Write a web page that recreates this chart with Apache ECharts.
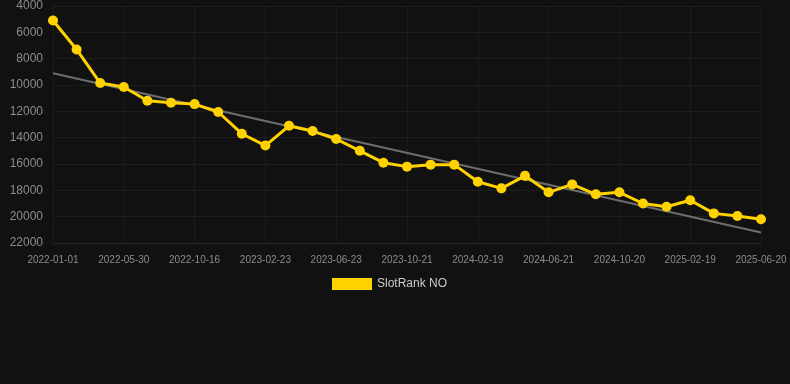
<!DOCTYPE html>
<html>
<head>
<meta charset="utf-8">
<script src="https://cdn.jsdelivr.net/npm/echarts@6/dist/echarts.min.js"></script>
<style>
  html, body { margin: 0; padding: 0; background: #111111; }
  #chart { width: 790px; height: 384px; }
</style>
</head>
<body>
<div id="chart"></div>
<script>
// dates (every 3rd one is labelled on the axis)
const dates = [
  '2022-01-01', '2022-02-19', '2022-04-10',
  '2022-05-30', '2022-07-16', '2022-08-31',
  '2022-10-16', '2022-11-29', '2023-01-11',
  '2023-02-23', '2023-04-04', '2023-05-14',
  '2023-06-23', '2023-08-02', '2023-09-11',
  '2023-10-21', '2023-11-30', '2024-01-09',
  '2024-02-19', '2024-03-30', '2024-05-11',
  '2024-06-21', '2024-07-31', '2024-09-09',
  '2024-10-20', '2024-11-29', '2025-01-09',
  '2025-02-19', '2025-03-31', '2025-05-10',
  '2025-06-20'
]
// rank values
const rankNO = [
  5100, 7300, 9850, 10150, 11200, 11350, 11450, 12050, 13700, 14600,
  13100, 13500, 14100, 15000, 15900, 16200, 16050, 16050, 17350, 17850,
  16900, 18150, 17550, 18300, 18150, 19000, 19250, 18750, 19750, 19950,
  20200
]
// trend line end points
const trendStart = 9100
const trendEnd = 21200

const chart = echarts.init(document.getElementById('chart'))
const font = 'Arial, "Liberation Sans", sans-serif'

chart.setOption({
  backgroundColor: '#111111',
  animation: false,
  textStyle: { fontFamily: font },
  grid: { left: 53, right: 29, top: 6, bottom: 141 },
  legend: {
    data: ['SlotRank NO'],
    top: 273,
    left: 327,
    icon: 'rect',
    itemWidth: 40,
    itemHeight: 12,
    itemGap: 6,
    textStyle: { color: '#cccccc', fontSize: 12, fontFamily: font },
    selectedMode: false
  },
  xAxis: {
    type: 'category',
    boundaryGap: false,
    data: dates,
    axisLine: { lineStyle: { color: '#262626' } },
    axisTick: { show: false },
    axisLabel: { interval: 2, color: '#8c8c8c', fontSize: 10, margin: 12 },
    splitLine: { show: true, interval: 2, lineStyle: { color: '#1c1c1c' } }
  },
  yAxis: {
    type: 'value',
    inverse: true,
    min: 4000,
    max: 22000,
    interval: 2000,
    axisLine: { show: false },
    axisTick: { show: false },
    axisLabel: { color: '#8c8c8c', fontSize: 12, margin: 10, formatter: v => String(v) },
    splitLine: { lineStyle: { color: '#1e1e1e' } }
  },
  series: [
    {
      name: 'SlotRank NO',
      type: 'line',
      data: rankNO,
      color: '#FFD200',
      symbol: 'circle',
      symbolSize: 10,
      lineStyle: { width: 3, color: '#FFD200' },
      itemStyle: { color: '#FFD200' },
      z: 3,
      markLine: {
        silent: true,
        symbol: 'none',
        label: { show: false },
        lineStyle: { color: '#6e6e6e', width: 2, type: 'solid' },
        z: 2,
        data: [[
          { coord: [dates[0], trendStart] },
          { coord: [dates[dates.length - 1], trendEnd] }
        ]]
      }
    }
  ]
})
</script>
</body>
</html>
